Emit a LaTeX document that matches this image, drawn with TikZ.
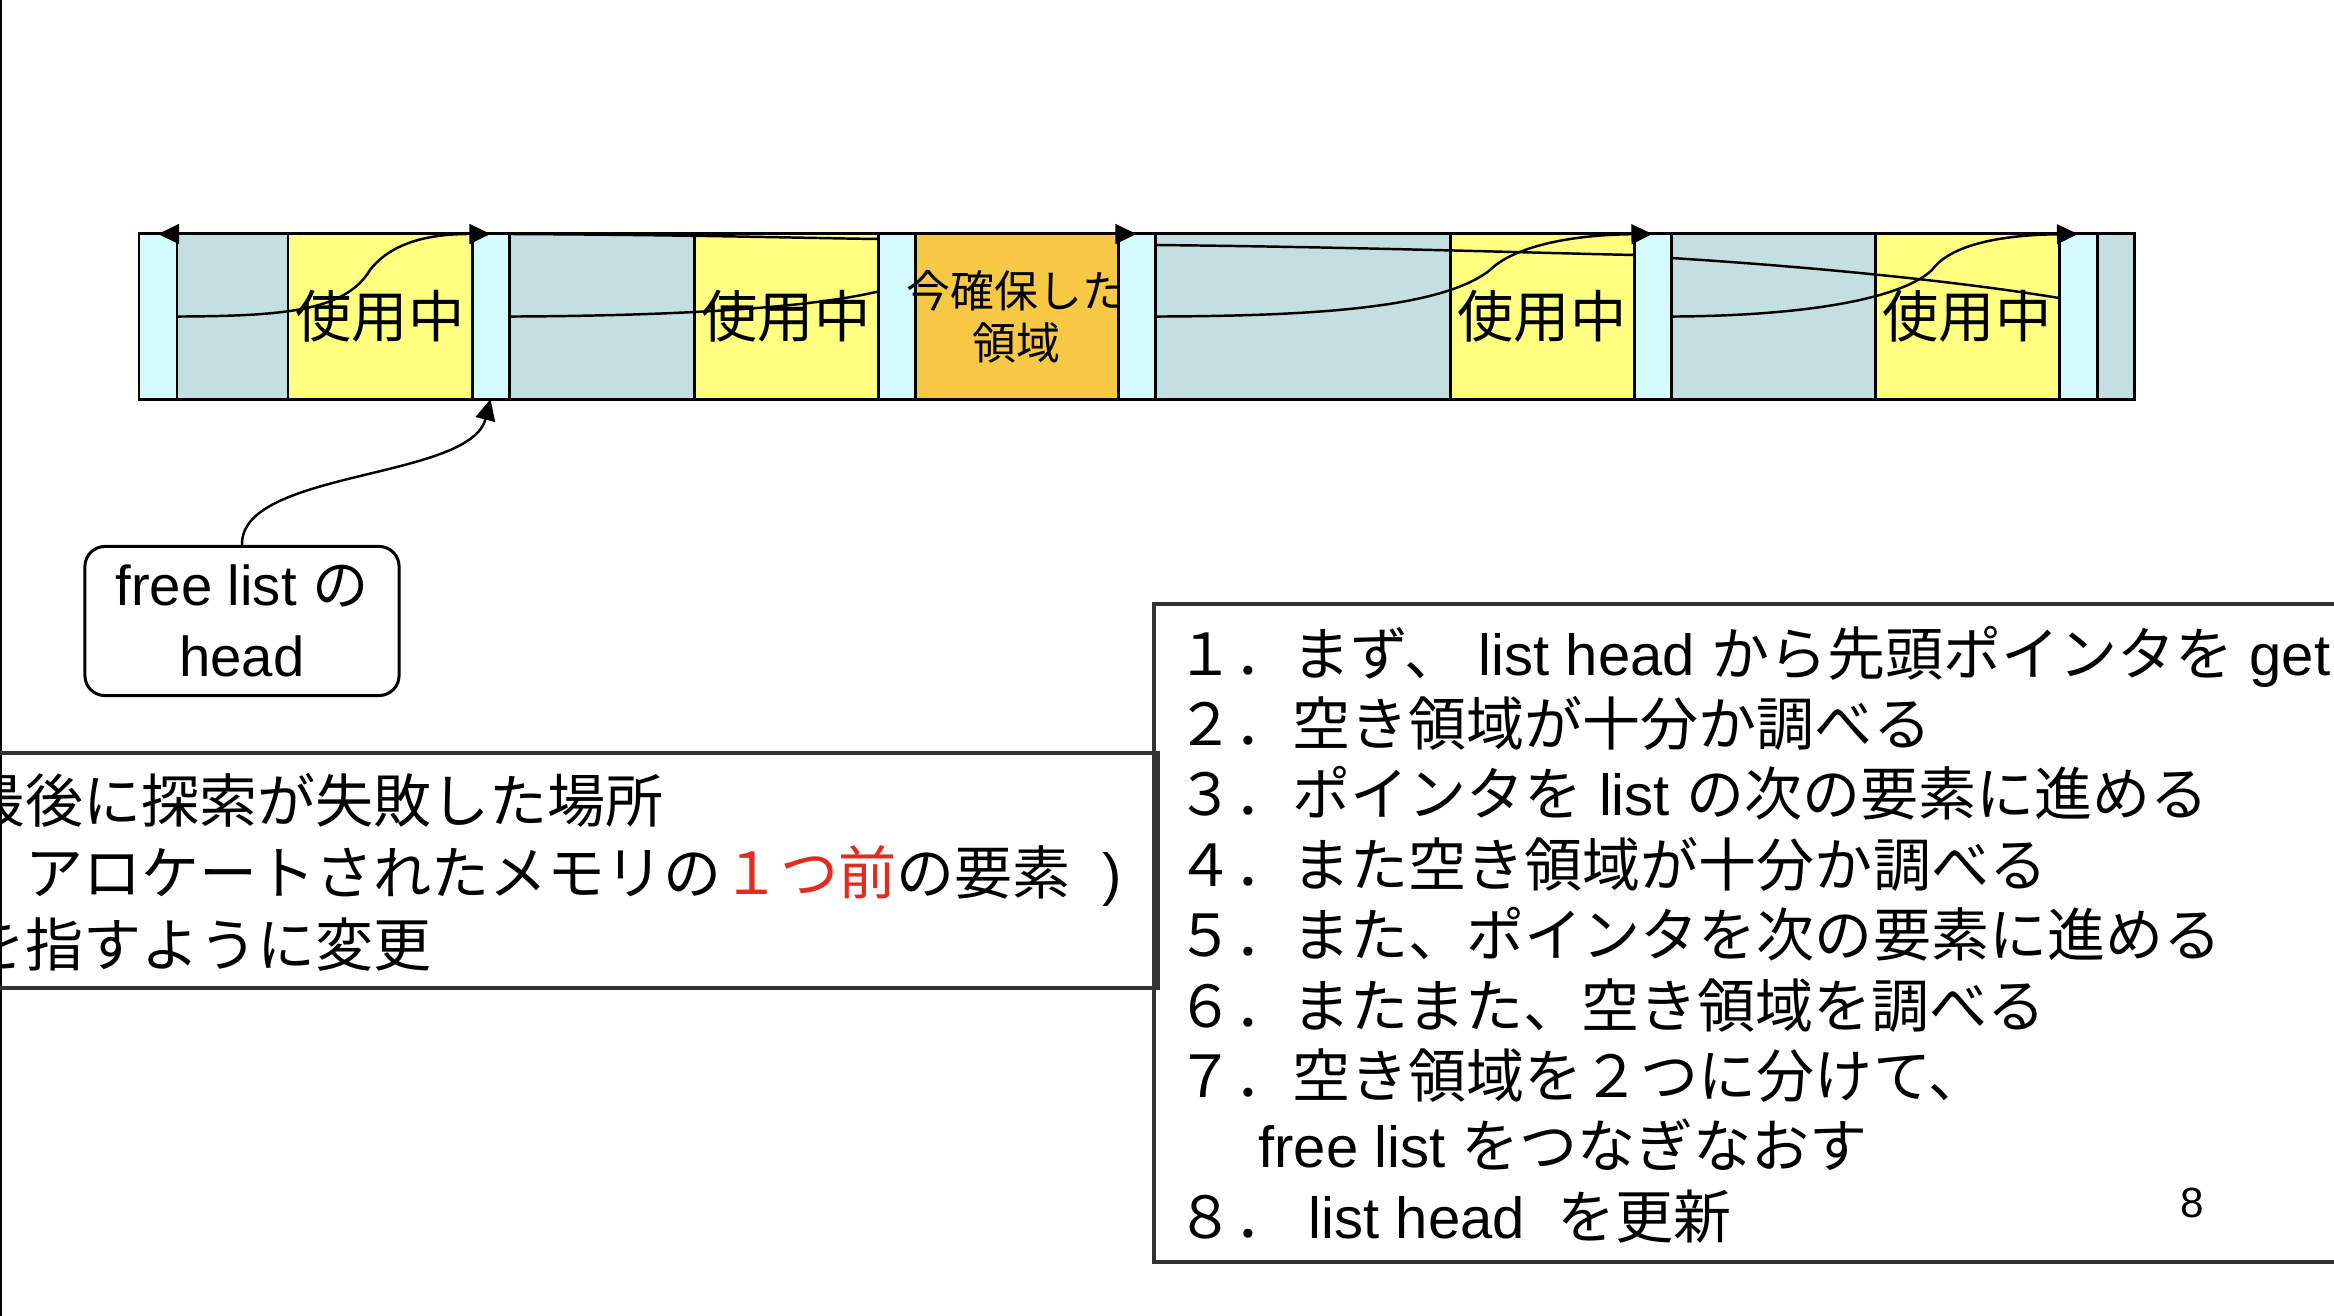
\documentclass[tikz,border=0pt]{standalone}
\usepackage{fontspec}
\setmainfont{Noto Sans CJK JP}
\newfontfamily\latfont{Liberation Sans}
\newcommand{\lat}[1]{{\latfont #1}}
\usetikzlibrary{arrows.meta, calc}
\definecolor{hdrcyan}{RGB}{212,252,252}
\definecolor{freegray}{RGB}{195,223,226}
\definecolor{usedyellow}{RGB}{255,255,128}
\definecolor{neworange}{RGB}{246,200,68}
\definecolor{markred}{RGB}{226,44,32}

\begin{document}
\begin{tikzpicture}[x=0.01cm, y=-0.01cm, >={Triangle[length=6pt,width=5.6pt]},
    cell/.style={draw=black, line width=0.85pt, inner sep=0pt, outer sep=0pt, minimum height=1.65cm},
    hdr/.style={cell, fill=hdrcyan},
    freeblk/.style={cell, fill=freegray},
    usedblk/.style={cell, fill=usedyellow, font=\fontsize{16}{19}\selectfont},
    newblk/.style={cell, fill=neworange, align=center, font=\fontsize{12.5}{14.8}\selectfont},
    link/.style={line width=0.7pt},
    boxline/.style={line width=0.9pt, draw=black!80},
    listline/.style={anchor=base west, inner sep=0pt, font=\fontsize{16.5}{20}\selectfont}]
  \useasboundingbox (0,0) rectangle (2334,1316);
  \clip (0,0) rectangle (2334,1316);
  \fill[white] (0,0) rectangle (2334,1316);

  % 1. メモリ領域 (ヘッダ・空き・使用中)
  \foreach \xa/\xb/\kind/\nm/\txt in {
      139/177/hdr/c1/{}, 177/288/freeblk/c2/{}, 288/472/usedblk/c3/使用中,
      472/509/hdr/c4/{}, 509/694/freeblk/c5/{}, 694/878/usedblk/c6/使用中,
      878/915/hdr/c7/{}, 915/1118/newblk/c8/{\makebox[0pt]{今確保した}\\領域},
      1118/1155/hdr/c9/{}, 1155/1450/freeblk/c10/{}, 1450/1634/usedblk/c11/使用中,
      1634/1671/hdr/c12/{}, 1671/1875/freeblk/c13/{}, 1875/2059/usedblk/c14/使用中,
      2059/2097/hdr/c15/{}, 2097/2134/freeblk/c16/{}}
    \node[\kind, minimum width={(\xb-\xa)*0.01cm}, anchor=north west] (\nm) at (\xa,234) {\txt};

  % 2. free list のポインタ
  \draw[link, ->] (c2.north) -- (c1.north);
  \draw[link, ->] (c1.east) .. controls (280,316) and (345,312) .. (370,270)
                            .. controls (395,238) and (440,234) .. (c4.north);
  \draw[link] (c4.east) .. controls (650,316) and (800,310) .. ($(c7.west)+(0,-25)$);
  \draw[link] (c4.north east) .. controls (700,235) and (800,238) .. ($(c7.north west)+(0,5)$);
  \draw[link, ->] (c8.north) -- (c9.north);
  \draw[link] ($(c9.north east)+(0,11)$) .. controls (1350,247) and (1500,252) .. ($(c12.north west)+(0,21)$);
  \draw[link, ->] (c9.east) .. controls (1300,316) and (1440,310) .. (1490,270)
                            .. controls (1510,250) and (1560,235) .. (c12.north);
  \draw[link] ($(c12.north east)+(0,24)$) .. controls (1800,266) and (1950,280) .. ($(c15.north west)+(0,64)$);
  \draw[link, ->] (c12.east) .. controls (1800,316) and (1900,300) .. (1932,270)
                             .. controls (1950,245) and (2000,235) .. (c15.north);

  % 3. list head
  \node[draw, line width=0.85pt, rounded corners=0.2cm, minimum width=3.14cm, minimum height=1.49cm,
        align=center, font=\fontsize{16}{20}\latfont] (headbox) at (242,621) {free list {\normalfont の}\\head};
  \draw[link, ->] (headbox.north) .. controls (240,470) and (470,480) .. (c4.south);

  % 4. 説明の枠と文
  \draw[line width=0.6pt] (1,0) -- (1,1316);
  \draw[boxline] (1154,604) rectangle (2360,1262);
  \draw[boxline] (-20,753) rectangle (1158,988);

  \node[listline] (m1) at (-33,822) {最後に探索が失敗した場所};
  \node[listline] (m2) at (-33,894) {\hspace*{1em}アロケートされたメモリの{\color{markred}１つ前}の要素\hspace{0.55em}\lat{)}};
  \node[listline] (m3) at (-33,966) {を指すように変更};

  \foreach \txt [count=\i] in {
      {１．まず、\lat{ list head }から先頭ポインタを\lat{ get}},
      {２．空き領域が十分か調べる},
      {３．ポインタを\lat{ list }の次の要素に進める},
      {４．また空き領域が十分か調べる},
      {５．また、ポインタを次の要素に進める},
      {６．またまた、空き領域を調べる},
      {７．空き領域を２つに分けて、},
      {\hspace*{1.41em}\lat{free list }をつなぎなおす},
      {８．\lat{ list head\ \ }を更新}}
    \node[listline] (s\i) at (1176, {675+70.4*(\i-1)}) {\txt};

  \node[font=\fontsize{12}{14}\latfont, anchor=base, inner sep=0pt] (pg) at (2192,1217) {8};
\end{tikzpicture}
\end{document}
